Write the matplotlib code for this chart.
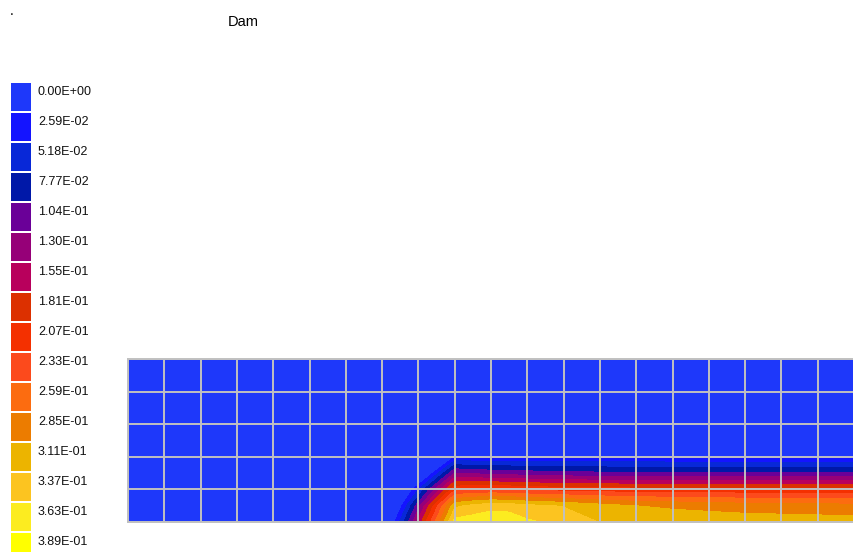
import numpy as np
import matplotlib
matplotlib.use("Agg")
import matplotlib.pyplot as plt

# legend levels and colours
level_labels = ['0.00E+00', '2.59E-02', '5.18E-02', '7.77E-02', '1.04E-01', '1.30E-01',
                '1.55E-01', '1.81E-01', '2.07E-01', '2.33E-01', '2.59E-01', '2.85E-01',
                '3.11E-01', '3.37E-01', '3.63E-01', '3.89E-01']
level_values = [0.0, 0.0259, 0.0518, 0.0777, 0.104, 0.130, 0.155, 0.181,
                0.207, 0.233, 0.259, 0.285, 0.311, 0.337, 0.363, 0.389]
level_colors = ['#1e38fa', '#1414ff', '#0828d8', '#0018a8', '#6a0098', '#960078',
                '#b8005c', '#dc3000', '#f43000', '#fc4a1c', '#fc6c10', '#ec7c00',
                '#ecb400', '#fcc420', '#fcec20', '#ffff00']

# mesh size (cells)
n_cols = 20
n_rows = 5

# field nodes: row heights, wet front position per row, node columns right of the front
row_y = [0.0, 0.5, 1.0, 1.5, 2.0, 5.0]
front_x = [7.35, 7.55, 7.85, 8.4, 8.95, 8.95]
col_x = [9.0, 9.5, 10.0, 10.5, 11.0, 12.0, 13.0, 14.0, 15.0, 16.0, 17.0, 18.0, 19.0, 20.0]

# values at the nodes right of the front (front and left edge are 0)
val_y0 = [0.347, 0.352, 0.356, 0.354, 0.341, 0.330, 0.310, 0.305, 0.303, 0.302, 0.300, 0.299, 0.298, 0.297]
val_y05 = [0.305, 0.318, 0.328, 0.326, 0.318, 0.309, 0.295, 0.285, 0.280, 0.276, 0.272, 0.270, 0.268, 0.267]
val_y1 = [0.200, 0.205, 0.207, 0.205, 0.200, 0.195, 0.192, 0.190, 0.190, 0.189, 0.188, 0.188, 0.187, 0.187]
val_y15 = [0.105, 0.100, 0.095, 0.092, 0.090, 0.085, 0.083, 0.082, 0.081, 0.080, 0.080, 0.079, 0.079, 0.079]
val_y2 = [0.0] * len(col_x)
val_y5 = [0.0] * len(col_x)

rows = [val_y0, val_y05, val_y1, val_y15, val_y2, val_y5]
X = np.array([[0.0, f] + col_x for f in front_x])
Y = np.array([[y] * (len(col_x) + 2) for y in row_y])
Z = np.array([[0.0, 0.0] + r for r in rows])

W, H = 854, 552
fig = plt.figure(figsize=(W / 100, H / 100), dpi=100)

# mesh plot
cell_w = 36.8
ax = fig.add_axes([128 / W, 30 / H, (W - 128) / W, 163 / H])
bounds = [-1.0, 1e-6] + level_values[1:-1] + [0.5]
ax.contourf(X, Y, Z, levels=bounds, colors=level_colors)
ax.set_xlim(0, (W - 128) / cell_w)
ax.set_ylim(0, n_rows)
ax.set_xticks(range(n_cols + 1))
ax.set_yticks(range(n_rows + 1))
ax.grid(True, color='#c0c0c0', linewidth=1.4)
ax.tick_params(length=0, labelbottom=False, labelleft=False)
for s in ax.spines.values():
    s.set_color('#c0c0c0')
    s.set_linewidth(1.4)

# colour key
n = len(level_labels)
lax = fig.add_axes([11 / W, 1 - (83 + 30 * n) / H, 20 / W, 30 * n / H])
lax.bar([0.5] * n, [0.93] * n, bottom=np.arange(n), width=1.0, color=level_colors)
lax.set_xlim(0, 1)
lax.set_ylim(n, 0)
lax.axis('off')
for i, lab in enumerate(level_labels):
    lax.text(1.35, i + 0.31, lab, ha='left', va='center', fontsize=9,
             family='Liberation Sans', color='#111111', clip_on=False)

fig.text(243 / W, 1 - 22 / H, 'Dam', ha='center', va='center', fontsize=10.5,
         family='Liberation Sans')
fig.text(10 / W, 1 - 15 / H, '.', ha='left', va='baseline', fontsize=10,
         family='Liberation Sans')

fig.savefig('out.png', dpi=100)
